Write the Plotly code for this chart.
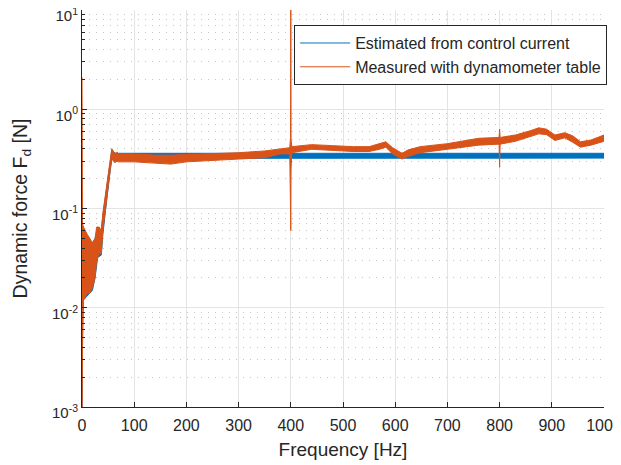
import plotly.graph_objects as go

# ---- data (upper / lower envelope of the noisy spectra) ----
est_f = [0, 1, 3, 10, 20, 25, 30, 37, 40, 45, 50, 54, 57, 60, 65, 70, 100, 150, 200, 250,
         300, 350, 400, 450, 500, 550, 600, 650, 700, 750, 800, 850, 900, 950, 1000]
est_hi = [0.08, 0.06, 0.06, 0.05, 0.045, 0.05, 0.06, 0.06, 0.085, 0.13, 0.21, 0.30, 0.38, 0.37, 0.36, 0.36,
          0.36, 0.36, 0.36, 0.36, 0.36, 0.36, 0.36, 0.36, 0.36, 0.36, 0.36, 0.36, 0.36, 0.36, 0.36, 0.36,
          0.36, 0.36, 0.36]
est_lo = [0.0005, 0.01, 0.012, 0.013, 0.015, 0.02, 0.032, 0.034, 0.055, 0.095, 0.15, 0.24, 0.31, 0.31, 0.315,
          0.32, 0.322, 0.322, 0.322, 0.322, 0.322, 0.322, 0.322, 0.322, 0.322, 0.322, 0.322, 0.322, 0.322,
          0.322, 0.322, 0.322, 0.322, 0.322, 0.322]

meas_f = [0, 1, 3, 6, 10, 15, 20, 25, 28, 33, 37, 40, 45, 50, 54, 57, 60, 63, 67, 70, 100, 140, 170,
          200, 250, 300, 350, 380, 398, 399.5, 400, 400.5, 402, 440, 480, 520, 550, 570, 582, 595,
          613, 625, 648, 700, 760, 799, 800, 801, 830, 860, 875, 890, 906, 925, 940, 955, 975, 1000]
meas_hi = [2.1, 0.07, 0.065, 0.06, 0.055, 0.05, 0.045, 0.05, 0.065, 0.065, 0.06, 0.09, 0.14, 0.22, 0.32,
           0.40, 0.38, 0.35, 0.37, 0.355, 0.355, 0.345, 0.345, 0.35, 0.355, 0.365, 0.38, 0.40, 0.41, 0.52, 15.0,
           0.50, 0.42, 0.44, 0.43, 0.42, 0.42, 0.45, 0.47, 0.41, 0.36, 0.39, 0.42, 0.45, 0.51, 0.52, 0.63,
           0.52, 0.55, 0.61, 0.65, 0.63, 0.55, 0.58, 0.54, 0.47, 0.49, 0.55]
meas_lo = [0.0005, 0.004, 0.012, 0.013, 0.014, 0.014, 0.016, 0.02, 0.03, 0.035, 0.035, 0.06, 0.10, 0.16,
           0.25, 0.33, 0.30, 0.29, 0.30, 0.295, 0.295, 0.285, 0.28, 0.295, 0.305, 0.315, 0.325, 0.355, 0.355,
           0.23, 0.06, 0.25, 0.365, 0.395, 0.385, 0.375, 0.375, 0.395, 0.415, 0.355, 0.315, 0.335, 0.365,
           0.395, 0.435, 0.445, 0.26, 0.445, 0.475, 0.535, 0.565, 0.555, 0.485, 0.515, 0.465, 0.415, 0.435,
           0.475]

series_names = ["Estimated from control current", "Measured with dynamometer table"]
colors = ["#0072BD", "#D95319"]

y_tickvals = [1e-3, 1e-2, 1e-1, 1e0, 1e1]
y_ticktext = ["10<sup>-3</sup>", "10<sup>-2</sup>", "10<sup>-1</sup>", "10<sup>0</sup>", "10<sup>1</sup>"]

FONT = "Liberation Sans, Arial, sans-serif"
TXT = "#262626"

fig = go.Figure()

for f, hi, lo, c in [(est_f, est_hi, est_lo, colors[0]), (meas_f, meas_hi, meas_lo, colors[1])]:
    fig.add_trace(go.Scatter(
        x=list(f) + list(f[::-1]), y=list(hi) + list(lo[::-1]),
        mode="lines", fill="toself", fillcolor=c,
        line=dict(color=c, width=1), showlegend=False, hoverinfo="skip"))

for name, c in zip(series_names, colors):
    fig.add_trace(go.Scatter(x=[None], y=[None], mode="lines", name=name,
                             line=dict(color=c, width=1)))

minor_vals = [k * 10 ** e for e in range(-3, 1) for k in range(2, 10)]

# the page body adds an 8 px offset; margins compensate so the plot area lands at
# x 82..604, y 10..407 in the 621x465 window
fig.update_layout(
    width=621, height=465,
    margin=dict(l=74, r=25, t=2, b=66),
    paper_bgcolor="white", plot_bgcolor="white",
    font=dict(family=FONT, color=TXT, size=15),
    showlegend=True,
    legend=dict(x=1.006, xanchor="right", y=0.962, yanchor="top",
                bgcolor="white", bordercolor=TXT, borderwidth=1,
                font=dict(size=16, family=FONT, color=TXT),
                tracegroupgap=0, itemwidth=50),
    xaxis=dict(range=[0, 1000], dtick=100, tick0=0, automargin=False,
               ticklabeloverflow="allow", ticklabelstandoff=4,
               showgrid=True, gridcolor="#e3e3e3", gridwidth=1,
               showline=True, linecolor=TXT, linewidth=1, mirror=False,
               ticks="inside", ticklen=5, tickcolor=TXT, zeroline=False,
               tickfont=dict(size=16, family=FONT, color=TXT),
               title=dict(text="Frequency [Hz]", font=dict(size=19, family=FONT, color=TXT), standoff=9)),
    yaxis=dict(type="log", range=[-3, 1], automargin=False,
               ticklabeloverflow="allow", ticklabelshift=6,
               tickmode="array", tickvals=y_tickvals, ticktext=y_ticktext,
               showgrid=True, gridcolor="#e3e3e3", gridwidth=1,
               showline=True, linecolor=TXT, linewidth=1, mirror=False,
               ticks="inside", ticklen=5, tickcolor=TXT, zeroline=False,
               tickfont=dict(size=15, family=FONT, color=TXT),
               minor=dict(tickmode="array", tickvals=minor_vals, ticks="inside", ticklen=3,
                          tickcolor=TXT, showgrid=True, gridcolor="#c4c4c4", griddash="1px,6px"),
               title=dict(text="Dynamic force F<sub>d</sub> [N]", font=dict(size=19.5, family=FONT, color=TXT), standoff=19)),
)

fig.write_html("out.html")
